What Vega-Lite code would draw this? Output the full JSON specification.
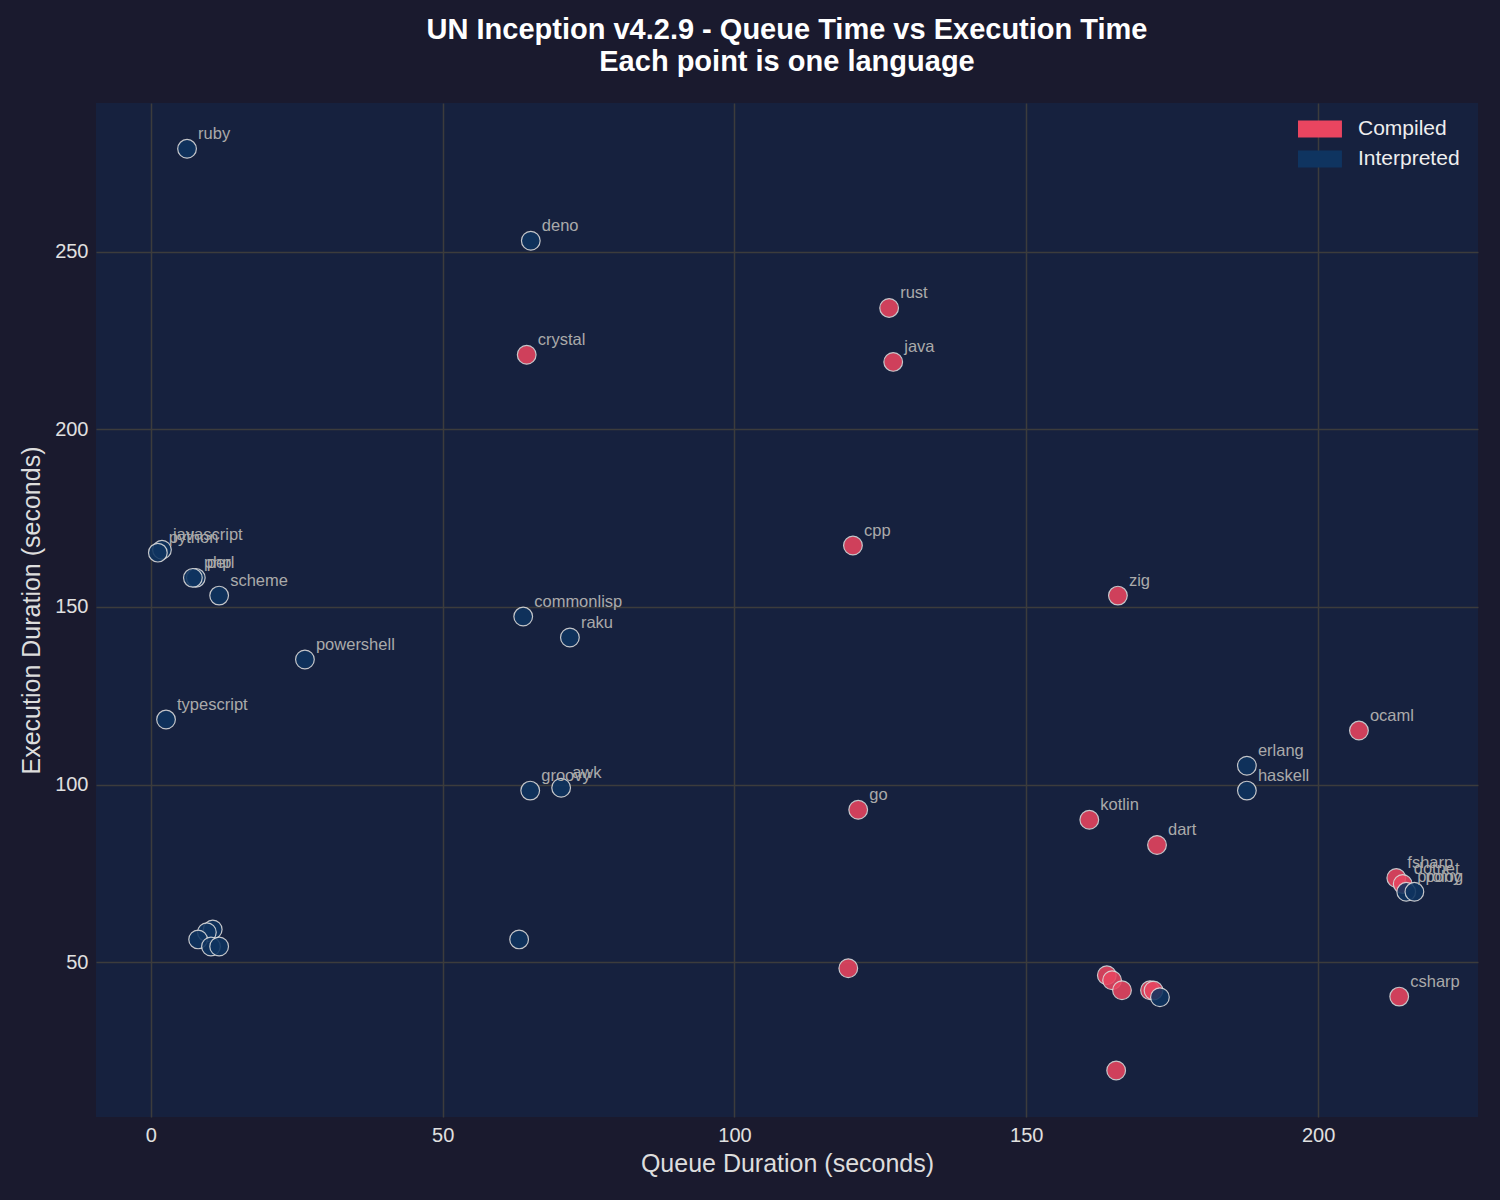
{
  "$schema": "https://vega.github.io/schema/vega-lite/v6.json",
  "width": 1382,
  "height": 1014,
  "autosize": {"type": "none"},
  "padding": {"left": 96, "top": 103, "right": 22, "bottom": 83},
  "background": "#1a1a2e",
  "title": {
    "text": ["UN Inception v4.2.9 - Queue Time vs Execution Time", "Each point is one language"],
    "font": "Liberation Sans",
    "fontSize": 29,
    "fontWeight": "bold",
    "color": "#ffffff",
    "lineHeight": 32,
    "offset": 26,
    "anchor": "middle"
  },
  "data": {
    "values": [
      {"language": "rust", "queue": 126.5, "exec": 234.2, "type": "Compiled"},
      {"language": "crystal", "queue": 64.4, "exec": 221.0, "type": "Compiled"},
      {"language": "java", "queue": 127.2, "exec": 219.0, "type": "Compiled"},
      {"language": "cpp", "queue": 120.3, "exec": 167.3, "type": "Compiled"},
      {"language": "zig", "queue": 165.7, "exec": 153.2, "type": "Compiled"},
      {"language": "ocaml", "queue": 207.0, "exec": 115.2, "type": "Compiled"},
      {"language": "go", "queue": 121.2, "exec": 92.9, "type": "Compiled"},
      {"language": "kotlin", "queue": 160.8, "exec": 90.1, "type": "Compiled"},
      {"language": "dart", "queue": 172.4, "exec": 83.0, "type": "Compiled"},
      {"language": "fsharp", "queue": 213.4, "exec": 73.7, "type": "Compiled"},
      {"language": "dotnet", "queue": 214.5, "exec": 72.0, "type": "Compiled"},
      {"language": "csharp", "queue": 213.9, "exec": 40.3, "type": "Compiled"},
      {"language": "", "queue": 119.5, "exec": 48.3, "type": "Compiled"},
      {"language": "", "queue": 163.8, "exec": 46.3, "type": "Compiled"},
      {"language": "", "queue": 164.7, "exec": 44.9, "type": "Compiled"},
      {"language": "", "queue": 166.4, "exec": 42.1, "type": "Compiled"},
      {"language": "", "queue": 171.2, "exec": 42.1, "type": "Compiled"},
      {"language": "", "queue": 171.8, "exec": 42.0, "type": "Compiled"},
      {"language": "", "queue": 165.4, "exec": 19.5, "type": "Compiled"},
      {"language": "ruby", "queue": 6.2, "exec": 279.0, "type": "Interpreted"},
      {"language": "deno", "queue": 65.1, "exec": 253.1, "type": "Interpreted"},
      {"language": "javascript", "queue": 1.9, "exec": 166.1, "type": "Interpreted"},
      {"language": "python", "queue": 1.2, "exec": 165.3, "type": "Interpreted"},
      {"language": "perl", "queue": 7.7, "exec": 158.2, "type": "Interpreted"},
      {"language": "php", "queue": 7.2, "exec": 158.2, "type": "Interpreted"},
      {"language": "scheme", "queue": 11.7, "exec": 153.2, "type": "Interpreted"},
      {"language": "commonlisp", "queue": 63.8, "exec": 147.3, "type": "Interpreted"},
      {"language": "raku", "queue": 71.8, "exec": 141.4, "type": "Interpreted"},
      {"language": "powershell", "queue": 26.4, "exec": 135.2, "type": "Interpreted"},
      {"language": "typescript", "queue": 2.6, "exec": 118.3, "type": "Interpreted"},
      {"language": "erlang", "queue": 187.8, "exec": 105.3, "type": "Interpreted"},
      {"language": "haskell", "queue": 187.8, "exec": 98.3, "type": "Interpreted"},
      {"language": "groovy", "queue": 65.0, "exec": 98.3, "type": "Interpreted"},
      {"language": "awk", "queue": 70.3, "exec": 99.1, "type": "Interpreted"},
      {"language": "prolog", "queue": 215.1, "exec": 69.8, "type": "Interpreted"},
      {"language": "pony", "queue": 216.5, "exec": 69.8, "type": "Interpreted"},
      {"language": "", "queue": 10.6, "exec": 59.2, "type": "Interpreted"},
      {"language": "", "queue": 9.6, "exec": 58.4, "type": "Interpreted"},
      {"language": "", "queue": 8.1, "exec": 56.4, "type": "Interpreted"},
      {"language": "", "queue": 10.3, "exec": 54.4, "type": "Interpreted"},
      {"language": "", "queue": 11.7, "exec": 54.4, "type": "Interpreted"},
      {"language": "", "queue": 63.1, "exec": 56.4, "type": "Interpreted"},
      {"language": "", "queue": 172.9, "exec": 40.1, "type": "Interpreted"}
    ]
  },
  "encoding": {
    "x": {
      "field": "queue",
      "type": "quantitative",
      "title": "Queue Duration (seconds)",
      "scale": {"domain": [-9.4, 227.4], "nice": false, "zero": false},
      "axis": {"values": [0, 50, 100, 150, 200]}
    },
    "y": {
      "field": "exec",
      "type": "quantitative",
      "title": "Execution Duration (seconds)",
      "scale": {"domain": [6.4, 291.9], "nice": false, "zero": false},
      "axis": {"values": [50, 100, 150, 200, 250]}
    }
  },
  "layer": [
    {
      "mark": {
        "type": "point",
        "filled": true,
        "shape": "circle",
        "size": 350,
        "opacity": 0.88,
        "stroke": "#dddddd",
        "strokeWidth": 1.2,
        "strokeOpacity": 1
      },
      "encoding": {
        "color": {
          "field": "type",
          "type": "nominal",
          "scale": {"domain": ["Compiled", "Interpreted"], "range": ["#e94560", "#0f3460"]},
          "legend": {
            "title": null,
            "orient": "none",
            "legendX": 1202,
            "legendY": 11,
            "padding": 0,
            "symbolType": "M-1,-0.57H1.93V0.57H-1Z",
            "symbolSize": 900,
            "symbolOpacity": 1,
            "symbolStrokeWidth": 0,
            "labelFont": "Liberation Sans",
            "labelFontSize": 21,
            "labelColor": "#eeeeee",
            "labelOffset": 30,
            "rowPadding": 5
          }
        }
      }
    },
    {
      "mark": {
        "type": "text",
        "align": "left",
        "baseline": "alphabetic",
        "dx": 11,
        "dy": -10,
        "font": "Liberation Sans",
        "fontSize": 16.5,
        "color": "#aaaaaa"
      },
      "encoding": {"text": {"field": "language"}}
    }
  ],
  "config": {
    "view": {"fill": "#16213e", "stroke": null},
    "axis": {
      "labelFont": "Liberation Sans",
      "titleFont": "Liberation Sans",
      "labelFontSize": 20,
      "titleFontSize": 25,
      "titleFontWeight": "normal",
      "labelColor": "#e0e0e0",
      "titleColor": "#dddddd",
      "gridColor": "#3c3c3c",
      "gridWidth": 1.5,
      "domain": false,
      "ticks": false,
      "labelPadding": 8
    },
    "axisX": {"titlePadding": 6},
    "axisY": {"titlePadding": 10}
  }
}
